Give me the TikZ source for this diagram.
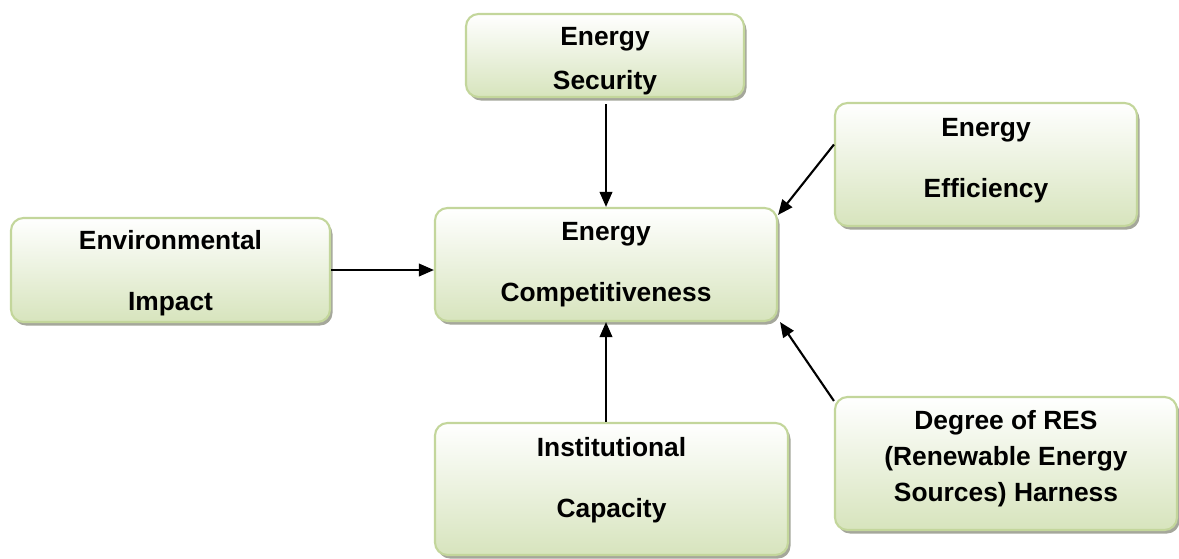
\documentclass[tikz,border=0pt]{standalone}
\usepackage{fontspec}
\setmainfont{Liberation Sans}
\usepackage{tikz}
\usetikzlibrary{arrows.meta, shadows}
\definecolor{CBorder}{HTML}{C3D69B}
\definecolor{CFill}{HTML}{D7E4BD}
\definecolor{CShadow}{HTML}{8E9182}

\begin{document}
\begin{tikzpicture}[
    factor/.style={draw=CBorder, line width=1.2pt, rounded corners=0.25cm,
        top color=white, bottom color=CFill,
        drop shadow={shadow xshift=0.05cm, shadow yshift=-0.07cm, fill=CShadow, opacity=0.8}},
    factortext/.style={align=center, inner sep=0pt, font=\fontsize{15}{18}\selectfont\bfseries},
    link/.style={-{Triangle[length=0.3cm, width=0.25cm]}, line width=1.2pt, black}
]
    \useasboundingbox (0, 0) rectangle (23.58, -11.16);

    % Centre box
    \node[factor, minimum width=6.84cm, minimum height=2.26cm] (competitiveness) at (12.12, -5.29) {};
    \node[factortext] (competitiveness-text) at (competitiveness.center) {Energy\\[16.6pt]Competitiveness};

    % Surrounding factors
    \node[factor, minimum width=5.56cm, minimum height=1.66cm] (security) at (12.10, -1.11) {};
    \node[factortext] (security-text) at ([yshift=-0.12cm]security.center) {Energy\\[7pt]Security};

    \node[factor, minimum width=6.04cm, minimum height=2.46cm] (efficiency) at (19.72, -3.29) {};
    \node[factortext] (efficiency-text) at ([yshift=0.08cm]efficiency.center) {Energy\\[16.6pt]Efficiency};

    \node[factor, minimum width=6.38cm, minimum height=2.08cm] (environmental) at (3.41, -5.40) {};
    \node[factortext] (environmental-text) at ([yshift=-0.06cm]environmental.center) {Environmental\\[16.6pt]Impact};

    \node[factor, minimum width=7.06cm, minimum height=2.64cm] (institutional) at (12.23, -9.78) {};
    \node[factortext] (institutional-text) at ([yshift=0.18cm]institutional.center) {Institutional\\[16.6pt]Capacity};

    \node[factor, minimum width=6.84cm, minimum height=2.66cm] (res) at (20.12, -9.27) {};
    \node[factortext] (res-text) at ([yshift=0.1cm]res.center) {Degree of RES\\[2.4pt](Renewable Energy\\[2.4pt]Sources) Harness};

    % Links into the centre
    \draw[link, shorten <=0.12cm] (security.south -| competitiveness.north) -- (competitiveness.north);
    \draw[link] ([yshift=0.4cm]efficiency.west) -- ([yshift=-0.16cm]competitiveness.north east);
    \draw[link] (environmental.east) -- (environmental.east -| competitiveness.west);
    \draw[link] (institutional.north -| competitiveness.south) -- (competitiveness.south);
    \draw[link] ([yshift=-0.1cm]res.north west) -- ([xshift=0.04cm]competitiveness.south east);
\end{tikzpicture}
\end{document}
